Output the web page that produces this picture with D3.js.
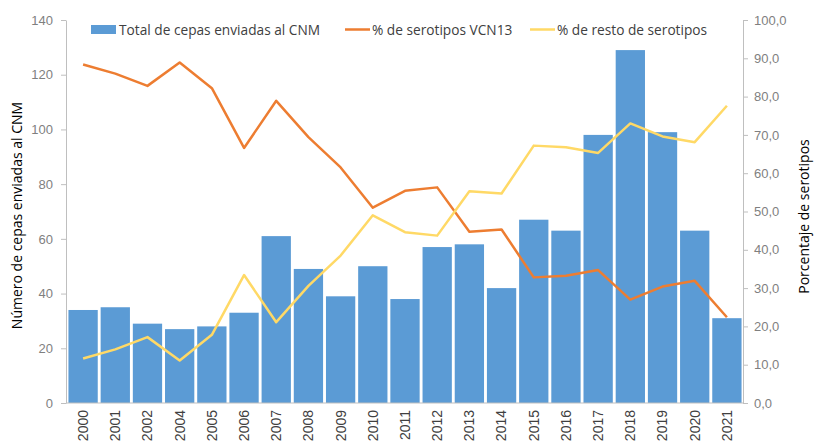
<!DOCTYPE html>
<html>
<head>
<meta charset="utf-8">
<script src="https://cdn.jsdelivr.net/npm/d3@7"></script>
<style>
  body { margin: 0; background: #fff; }
  svg { display: block; font-family: "Open Sans", "DejaVu Sans", sans-serif; }
  .tick text { fill: #7f7f7f; font-size: 13px; }
  .tick line, .domain { stroke: #bfbfbf; }
  .x-axis .tick text { fill: #404040; font-size: 14px; }
</style>
</head>
<body>
<svg id="chart" width="814" height="444"></svg>
<script>
const years = ['2000', '2001', '2002', '2004', '2005', '2006', '2007', '2008', '2009', '2010', '2011',
    '2012', '2013', '2014', '2015', '2016', '2017', '2018', '2019', '2020', '2021']
const totalCepas = [34, 35, 29, 27, 28, 33, 61, 49, 39, 50, 38, 57, 58, 42, 67, 63, 98, 129, 99, 63, 31]
const pctVCN13 = [88.4, 86.0, 82.8, 88.9, 82.2, 66.6, 78.9, 69.4, 61.5, 51.0, 55.4, 56.3, 44.7, 45.3,
    32.8, 33.2, 34.7, 27.0, 30.4, 31.9, 22.4]
const pctResto = [11.6, 14.0, 17.2, 11.1, 17.8, 33.4, 21.1, 30.6, 38.5, 49.0, 44.6, 43.7, 55.3, 54.7,
    67.2, 66.8, 65.3, 73.0, 69.6, 68.1, 77.6]
const leftTicks = [0, 20, 40, 60, 80, 100, 120, 140]
const rightTicks = [0, 10, 20, 30, 40, 50, 60, 70, 80, 90, 100]

const margin = { top: 20, right: 71, bottom: 41, left: 66 }
const width = 814
const height = 444

const svg = d3.select('#chart')

const x = d3.scaleBand()
    .domain(years)
    .range([margin.left + 1, width - margin.right])
    .paddingInner(0.09)
    .paddingOuter(0.045)

const yLeft = d3.scaleLinear().domain([0, 140]).range([height - margin.bottom, margin.top])
const yRight = d3.scaleLinear().domain([0, 100]).range([height - margin.bottom, margin.top])

// bars
svg.append('g')
    .selectAll('rect')
    .data(years)
    .join('rect')
    .attr('x', (d) => x(d))
    .attr('y', (d, i) => yLeft(totalCepas[i]))
    .attr('width', x.bandwidth())
    .attr('height', (d, i) => yLeft(0) - yLeft(totalCepas[i]))
    .attr('fill', '#5b9bd5')

// axes
const leftAxis = svg.append('g')
    .attr('transform', `translate(${margin.left},0)`)
    .call(d3.axisLeft(yLeft).tickValues(leftTicks).tickSize(5).tickPadding(6).tickSizeOuter(0))
leftAxis.selectAll('.tick text').attr('dx', '-2')

svg.append('g')
    .attr('transform', `translate(${width - margin.right},0)`)
    .call(d3.axisRight(yRight).tickValues(rightTicks).tickSize(5).tickPadding(6).tickSizeOuter(0)
        .tickFormat((d) => d3.format('.1f')(d).replace('.', ',')))

const xAxis = svg.append('g')
    .attr('class', 'x-axis')
    .attr('transform', `translate(0,${height - margin.bottom})`)
    .call(d3.axisBottom(x).tickSize(0).tickSizeOuter(0))
xAxis.select('.domain').attr('d', `M${margin.left},0H${width - margin.right}`)
xAxis.selectAll('.tick text')
    .attr('transform', 'rotate(-90)')
    .attr('text-anchor', 'end')
    .attr('x', -7)
    .attr('y', 0)
    .attr('dy', '0.35em')

// lines
const line = (values) => d3.line()
    .x((d, i) => x(years[i]) + x.bandwidth() / 2)
    .y((d) => yRight(d))(values)

svg.append('path')
    .attr('d', line(pctVCN13))
    .attr('fill', 'none')
    .attr('stroke', '#ed7d31')
    .attr('stroke-width', 2.5)
    .attr('stroke-linejoin', 'round')

svg.append('path')
    .attr('d', line(pctResto))
    .attr('fill', 'none')
    .attr('stroke', '#ffd966')
    .attr('stroke-width', 2.5)
    .attr('stroke-linejoin', 'round')

// axis titles
svg.append('text')
    .attr('transform', `translate(22,${(margin.top + height - margin.bottom) / 2 + 4}) rotate(-90)`)
    .attr('text-anchor', 'middle')
    .attr('font-size', 14)
    .attr('fill', '#000')
    .text('Número de cepas enviadas al CNM')

svg.append('text')
    .attr('transform', `translate(809,${(margin.top + height - margin.bottom) / 2 + 5}) rotate(-90)`)
    .attr('text-anchor', 'middle')
    .attr('font-size', 14)
    .attr('fill', '#000')
    .text('Porcentaje de serotipos')

// legend
const legend = svg.append('g').attr('font-size', 13.7).attr('fill', '#404040')
legend.append('rect').attr('x', 91).attr('y', 25).attr('width', 25).attr('height', 9).attr('fill', '#5b9bd5')
legend.append('text').attr('x', 119).attr('y', 34.5).text('Total de cepas enviadas al CNM')
legend.append('line').attr('x1', 345).attr('x2', 370).attr('y1', 29.5).attr('y2', 29.5)
    .attr('stroke', '#ed7d31').attr('stroke-width', 2.5)
legend.append('text').attr('x', 372).attr('y', 34.5).text('% de serotipos VCN13')
legend.append('line').attr('x1', 530).attr('x2', 555).attr('y1', 29.5).attr('y2', 29.5)
    .attr('stroke', '#ffd966').attr('stroke-width', 2.5)
legend.append('text').attr('x', 557).attr('y', 34.5).text('% de resto de serotipos')
</script>
</body>
</html>
